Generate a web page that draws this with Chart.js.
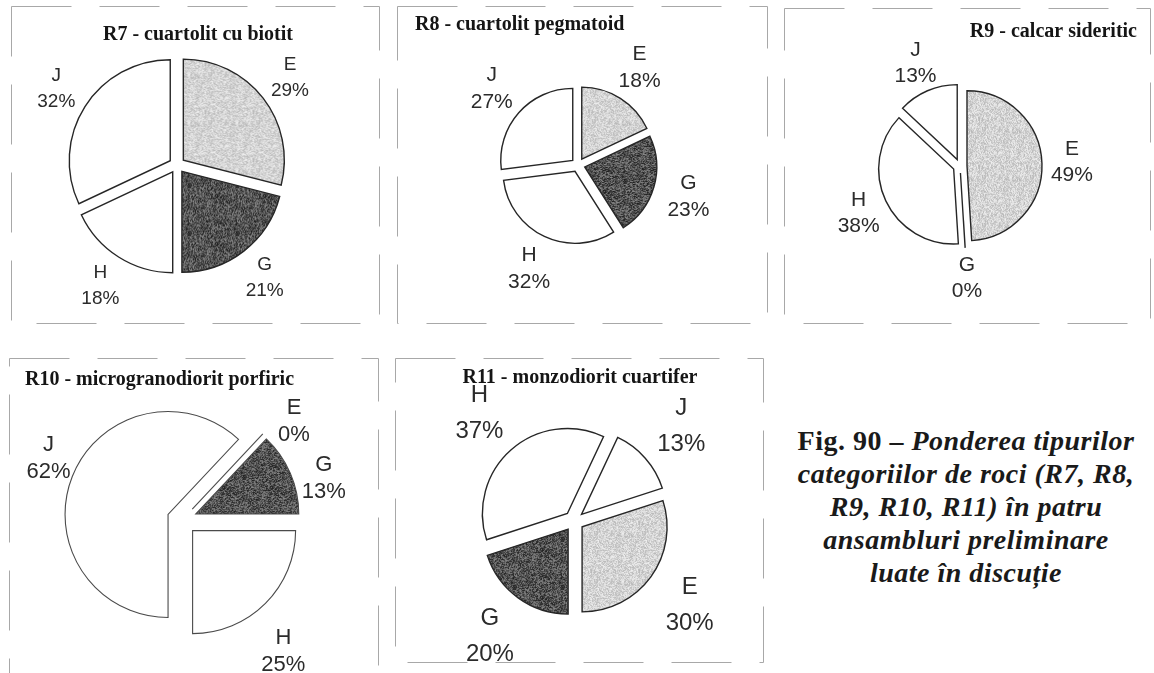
<!DOCTYPE html>
<html>
<head>
<meta charset="utf-8">
<script src="https://cdn.jsdelivr.net/npm/chart.js@4"></script>
<style>
  body { margin: 0; background: #fff; width: 1154px; height: 673px; position: relative; overflow: hidden; }
  canvas { position: absolute; }
  #caption {
    position: absolute; left: 766px; top: 424px; width: 400px;
    text-align: center; font-family: "Liberation Serif", serif; font-weight: bold;
    font-size: 28px; line-height: 33px; letter-spacing: 0.5px; color: #1a1a1a;
  }
</style>
</head>
<body>
<canvas id="r7" width="369" height="318" style="left:11px;top:6px"></canvas>
<canvas id="r8" width="371" height="318" style="left:397px;top:6px"></canvas>
<canvas id="r9" width="367" height="316" style="left:784px;top:8px"></canvas>
<canvas id="r10" width="370" height="340" style="left:9px;top:358px"></canvas>
<canvas id="r11" width="369" height="305" style="left:395px;top:358px"></canvas>
<div id="caption">Fig. 90 – <i>Ponderea tipurilor<br>categoriilor de roci (R7, R8,<br>R9, R10, R11) în patru<br>ansambluri preliminare<br>luate în discuție</i></div>
<script>
const categories = ['E', 'G', 'H', 'J'];
const r7Values = [29, 21, 18, 32];
const r8Values = [18, 23, 32, 27];
const r9Values = [49, 0, 38, 13];
const r10Values = [0, 13, 25, 62];
const r11Values = [30, 20, 37, 13];
const chartTitles = [
  'R7 - cuartolit cu biotit',
  'R8 - cuartolit pegmatoid',
  'R9 - calcar sideritic',
  'R10 - microgranodiorit porfiric',
  'R11 - monzodiorit cuartifer'
];

// grainy fill like the scanned print
function speckle(base, spread, seed) {
  const c = document.createElement('canvas');
  c.width = c.height = 48;
  const g = c.getContext('2d');
  const img = g.createImageData(48, 48);
  let s = seed;
  for (let i = 0; i < 48 * 48; i++) {
    s = (Math.imul(s, 1103515245) + 12345) >>> 0;
    const v = Math.max(0, Math.min(255, base + ((s >>> 16) % (2 * spread + 1)) - spread));
    img.data[i * 4] = img.data[i * 4 + 1] = img.data[i * 4 + 2] = v;
    img.data[i * 4 + 3] = 255;
  }
  g.putImageData(img, 0, 0);
  return g.createPattern(c, 'repeat');
}
const sliceColors = [speckle(212, 28, 7), speckle(84, 55, 11), '#ffffff', '#ffffff'];

const frame = {
  id: 'frame',
  beforeDraw(chart) {
    const ctx = chart.ctx;
    ctx.save();
    ctx.strokeStyle = '#a8a8a8';
    ctx.lineWidth = 1;
    ctx.setLineDash([60, 28]);
    ctx.strokeRect(0.5, 0.5, chart.width - 1, chart.height - 1);
    ctx.restore();
  }
};

// pull every slice out by the same distance without growing the big ones
const explode = {
  id: 'explode',
  beforeDatasetDraw(chart, args, opts) {
    const ctx = chart.ctx;
    const ds = chart.data.datasets[0];
    args.meta.data.forEach(arc => {
      const mid = (arc.startAngle + arc.endAngle) / 2;
      const dx = Math.cos(mid) * opts.offset, dy = Math.sin(mid) * opts.offset;
      if (arc.endAngle - arc.startAngle === 0) {
        // a 0% slice still shows as a single edge line
        ctx.save();
        ctx.strokeStyle = ds.borderColor;
        ctx.lineWidth = ds.borderWidth;
        ctx.beginPath();
        ctx.moveTo(arc.x + dx, arc.y + dy);
        ctx.lineTo(arc.x + dx + Math.cos(mid) * arc.outerRadius, arc.y + dy + Math.sin(mid) * arc.outerRadius);
        ctx.stroke();
        ctx.restore();
        return;
      }
      ctx.save();
      ctx.translate(dx, dy);
      arc.draw(ctx);
      ctx.restore();
    });
    return false;
  }
};

const titleText = {
  id: 'titleText',
  afterDraw(chart, args, opts) {
    const ctx = chart.ctx;
    ctx.save();
    ctx.font = 'bold 20px "Liberation Serif"';
    ctx.fillStyle = '#151515';
    ctx.textAlign = opts.align;
    ctx.textBaseline = 'middle';
    ctx.fillText(opts.text, opts.x, opts.y);
    ctx.restore();
  }
};

const sliceLabels = {
  id: 'sliceLabels',
  afterDatasetsDraw(chart, args, opts) {
    const ctx = chart.ctx;
    const meta = chart.getDatasetMeta(0);
    const values = chart.data.datasets[0].data;
    ctx.save();
    ctx.font = opts.size + 'px "Liberation Sans"';
    ctx.fillStyle = '#2b2b2b';
    ctx.textAlign = 'center';
    ctx.textBaseline = 'middle';
    meta.data.forEach((arc, i) => {
      const mid = (arc.startAngle + arc.endAngle) / 2;
      const d = arc.outerRadius + opts.gap;
      const nudge = opts.nudge ? opts.nudge[i] : [0, 0];
      const x = arc.x + Math.cos(mid) * d + nudge[0];
      const y = arc.y + Math.sin(mid) * d + nudge[1];
      ctx.fillText(chart.data.labels[i], x, y - opts.lh / 2);
      ctx.fillText(values[i] + '%', x, y + opts.lh / 2);
    });
    ctx.restore();
  }
};

function makePie(id, values, title, s) {
  const el = document.getElementById(id);
  const W = el.width, H = el.height;
  const pad = {
    left: Math.max(0, 2 * s.cx - W), right: Math.max(0, W - 2 * s.cx),
    top: Math.max(0, 2 * s.cy - H), bottom: Math.max(0, H - 2 * s.cy)
  };
  new Chart(el, {
    type: 'pie',
    data: {
      labels: categories,
      datasets: [{
        data: values,
        backgroundColor: sliceColors,
        borderColor: s.edge || '#262626',
        borderWidth: s.edgeWidth || 1.4,
        borderJoinStyle: 'miter'
      }]
    },
    options: {
      responsive: false,
      animation: false,
      rotation: s.rotation,
      radius: s.radius,
      layout: { padding: pad },
      plugins: {
        legend: { display: false },
        tooltip: { enabled: false },
        explode: { offset: s.offset },
        titleText: { text: title, x: s.tx, y: s.ty, align: s.align },
        sliceLabels: { size: s.size, lh: s.lh, gap: s.gap, nudge: s.nudge }
      }
    },
    plugins: [frame, explode, titleText, sliceLabels]
  });
}

makePie('r7', r7Values, chartTitles[0],
  { cx: 166, cy: 159, radius: 101, offset: 8, rotation: 0, gap: 42, size: 19, lh: 26, tx: 187, ty: 29, align: 'center' });
makePie('r8', r8Values, chartTitles[1],
  { cx: 181, cy: 159, radius: 72, offset: 7, rotation: 0, gap: 43, size: 21, lh: 27, tx: 18, ty: 19, align: 'left' });
makePie('r9', r9Values, chartTitles[2],
  { cx: 176, cy: 158, radius: 75, offset: 7, rotation: 0, gap: 37, size: 21, lh: 26, tx: 353, ty: 24, align: 'right' });
makePie('r10', r10Values, chartTitles[3],
  { cx: 173, cy: 162, radius: 103, offset: 15, rotation: 43.2, gap: 46, size: 22, lh: 27, tx: 16, ty: 22, align: 'left',
    edge: '#4a4a4a', edgeWidth: 1.1,
    nudge: [[10, 10], [5, 18], [-4, 26], [5, -7]] });
makePie('r11', r11Values, chartTitles[4],
  { cx: 179, cy: 163, radius: 85, offset: 10, rotation: 72, gap: 58, size: 24, lh: 36, tx: 185, ty: 20, align: 'center' });
</script>
</body>
</html>
